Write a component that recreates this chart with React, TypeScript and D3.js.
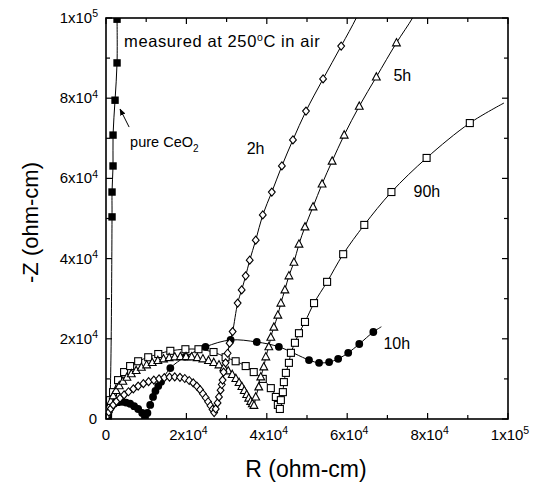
import * as d3 from 'd3';

// impedance spectra, -Z vs R (ohm-cm)
const pureCeO2R = [300, 600, 900, 1500, 1500, 1750, 1750, 2250, 2750, 2750];
const pureCeO2Z = [300, 1000, 3000, 50400, 56600, 63100, 70800, 79500, 88800, 99700];

const h2R = [0, 300, 700, 1200, 1800, 2600, 3500, 4500, 5600, 6800, 8000, 9300, 10600, 11900, 13200, 14500, 15800, 17100, 18400, 19600, 20700, 21700, 22600, 23400, 24100, 24800, 25400, 26000, 26500, 26900, 27300, 27750, 28100, 28500, 28800, 29000, 29250, 29750, 30250, 30750, 31500, 32750, 33750, 34750, 35750, 37250, 39000, 41250, 43750, 46500, 49750, 54000, 58500];
const h2Z = [0, 800, 1700, 2600, 3500, 4400, 5200, 6000, 6800, 7500, 8200, 8800, 9300, 9700, 10000, 10300, 10450, 10500, 10400, 10100, 9600, 9000, 8200, 7300, 6300, 5300, 4300, 3300, 2400, 1600, 2500, 4000, 5500, 7200, 8600, 9700, 11700, 14000, 16400, 18900, 21800, 28900, 32200, 35700, 39600, 44600, 50900, 56600, 63100, 69600, 76800, 84800, 93000];
const h2TailR = [62250, 64000];
const h2TailZ = [100000, 104000];

const h5R = [0, 300, 700, 1200, 1800, 2500, 3300, 4200, 5200, 6300, 7500, 8800, 10100, 11500, 12900, 14300, 15700, 17100, 18500, 19900, 21300, 22700, 24100, 25500, 26800, 28100, 29300, 30400, 31400, 32300, 33100, 33800, 34400, 35000, 35500, 36000, 36400, 36800, 37250, 38000, 38500, 39250, 39750, 40500, 41000, 41750, 42750, 43500, 44500, 45500, 46750, 48000, 49500, 51500, 53750, 56250, 59250, 63000, 67250, 72250];
const h5Z = [0, 1500, 3000, 4400, 5800, 7100, 8300, 9400, 10400, 11300, 12100, 12900, 13500, 14100, 14600, 15000, 15300, 15500, 15550, 15550, 15500, 15300, 15000, 14600, 14100, 13500, 12800, 12000, 11100, 10100, 9100, 8100, 7100, 6100, 5200, 4400, 3800, 3400, 5500, 8000, 10500, 13000, 15500, 18000, 20400, 22900, 25900, 28900, 32200, 35700, 39100, 43600, 47900, 52900, 58600, 64300, 70800, 78000, 85300, 93800];
const h5TailR = [76250, 78000];
const h5TailZ = [100000, 103500];

const h10R = [0, 300, 700, 1200, 2000, 3000, 4000, 5000, 6000, 7000, 8000, 9000, 9700, 10300, 11000, 11700, 12300, 13000, 13700, 16000, 19750, 24750, 31000, 37500, 43000, 50500, 53000, 55500, 57750, 60250, 63000, 66500];
const h10Z = [0, 1200, 2200, 3000, 3800, 4200, 4300, 4100, 3800, 3200, 2500, 1500, 400, 1500, 3500, 5500, 7000, 8200, 9300, 12700, 15500, 18000, 19700, 19200, 18000, 14700, 14000, 14200, 15000, 16500, 18700, 21700];
const h10TailR = [68500];
const h10TailZ = [23000];

const h90R = [0, 500, 1000, 1750, 3000, 4500, 6000, 8000, 10500, 13000, 16000, 19750, 23000, 26750, 29750, 32250, 34750, 36750, 39000, 41000, 42250, 42750, 43250, 43500, 44000, 44250, 44750, 45500, 46000, 47000, 48000, 49500, 51750, 55000, 59000, 64250, 71000, 79750, 90500];
const h90Z = [0, 2200, 4700, 6700, 9700, 11700, 13200, 14400, 15400, 16200, 17000, 17400, 17400, 16700, 15400, 14400, 13200, 11700, 10000, 7700, 5500, 3500, 2500, 4700, 6700, 9200, 11500, 14000, 16500, 19000, 21400, 24200, 28900, 34200, 41100, 48400, 56600, 65100, 73800];
const h90TailR = [99000];
const h90TailZ = [78800];

const xTicks = [0, 20000, 40000, 60000, 80000, 100000];
const xTickLabels = ['0', '2x10^4', '4x10^4', '6x10^4', '8x10^4', '1x10^5'];
const yTicks = [0, 20000, 40000, 60000, 80000, 100000];
const yTickLabels = ['0', '2x10^4', '4x10^4', '6x10^4', '8x10^4', '1x10^5'];
const minorTicks = [10000, 30000, 50000, 70000, 90000];

const width = 542;
const height = 485;
const left = 106, right = 508, top = 18, bottom = 419;
const font = '"Liberation Sans", Arial, sans-serif';

const x = d3.scaleLinear().domain([0, 100000]).range([left, right]);
const y = d3.scaleLinear().domain([0, 100000]).range([bottom, top]);

type Pt = [number, number];
const zip = (a: number[], b: number[]): Pt[] => a.map((v, i) => [v, b[i]]);

const line = d3.line<Pt>().x(d => x(d[0])).y(d => y(d[1])).curve(d3.curveCatmullRom.alpha(0.5));

function supLabel(s: string, size: number, supSize: number) {
  const [base, exp] = s.split('^');
  return (
    <>
      <tspan>{base}</tspan>
      {exp && <tspan dy={-size * 0.38} fontSize={supSize}>{exp}</tspan>}
    </>
  );
}

function Marker({ kind, cx, cy }: { kind: string; cx: number; cy: number }) {
  if (kind === 'fsq') return <rect x={cx - 3.7} y={cy - 3.7} width={7.4} height={7.4} fill="#000" />;
  if (kind === 'osq') return <rect x={cx - 3.5} y={cy - 3.5} width={7} height={7} fill="#fff" stroke="#000" strokeWidth={1.1} />;
  if (kind === 'dia') return <path d={`M${cx},${cy - 4}L${cx + 3.4},${cy}L${cx},${cy + 4}L${cx - 3.4},${cy}Z`} fill="#fff" stroke="#000" strokeWidth={1.1} />;
  if (kind === 'tri') return <path d={`M${cx},${cy - 4.3}L${cx + 3.9},${cy + 3}L${cx - 3.9},${cy + 3}Z`} fill="#fff" stroke="#000" strokeWidth={1.1} />;
  return <circle cx={cx} cy={cy} r={3.9} fill="#000" />;
}

const series = [
  { pts: zip(pureCeO2R, pureCeO2Z), tail: [] as Pt[], kind: 'fsq' },
  { pts: zip(h10R, h10Z), tail: zip(h10TailR, h10TailZ), kind: 'fci' },
  { pts: zip(h90R, h90Z), tail: zip(h90TailR, h90TailZ), kind: 'osq' },
  { pts: zip(h5R, h5Z), tail: zip(h5TailR, h5TailZ), kind: 'tri' },
  { pts: zip(h2R, h2Z), tail: zip(h2TailR, h2TailZ), kind: 'dia' },
];

export default function App() {
  const ticks = [...xTicks, ...minorTicks];
  return (
    <svg width={width} height={height} style={{ position: 'absolute', left: 0, top: 0, background: '#fff' }} fontFamily={font}>
      <defs>
        <clipPath id="plot">
          <rect x={left} y={top} width={right - left} height={bottom - top} />
        </clipPath>
        <marker id="arrow" viewBox="0 0 10 10" refX={9} refY={5} markerWidth={7} markerHeight={7} orient="auto">
          <path d="M0,1L10,5L0,9Z" fill="#000" />
        </marker>
      </defs>

      <g clipPath="url(#plot)">
        {series.map((s, i) => (
          <path key={i} d={line([...s.pts, ...s.tail]) || ''} fill="none" stroke="#000" strokeWidth={1} />
        ))}
        {series.map((s, i) => (
          <g key={i}>
            {s.pts.map((p, j) => (
              <Marker key={j} kind={s.kind} cx={x(p[0])} cy={y(p[1])} />
            ))}
          </g>
        ))}
      </g>

      {/* frame and inward ticks */}
      <rect x={left} y={top} width={right - left} height={bottom - top} fill="none" stroke="#000" strokeWidth={1.6} />
      {ticks.map(t => {
        const len = xTicks.includes(t) ? 6 : 4;
        return (
          <g key={'t' + t} stroke="#000" strokeWidth={1.2}>
            <line x1={x(t)} x2={x(t)} y1={bottom} y2={bottom - len} />
            <line x1={x(t)} x2={x(t)} y1={top} y2={top + len} />
            <line x1={left} x2={left + len} y1={y(t)} y2={y(t)} />
            <line x1={right} x2={right - len} y1={y(t)} y2={y(t)} />
          </g>
        );
      })}

      {xTicks.map((t, i) => (
        <text key={'xl' + t} x={x(t) + (i === 0 ? 0 : 2)} y={440} textAnchor="middle" fontSize={15}>
          {supLabel(xTickLabels[i], 15, 10.5)}
        </text>
      ))}
      {yTicks.map((t, i) => (
        <text key={'yl' + t} x={i === 0 ? 97 : 98} y={y(t) + 5} textAnchor="end" fontSize={15}>
          {supLabel(yTickLabels[i], 15, 10.5)}
        </text>
      ))}

      <text x={306} y={477} textAnchor="middle" fontSize={23}>R (ohm-cm)</text>
      <text transform={`translate(38,${(top + bottom) / 2 + 4}) rotate(-90)`} textAnchor="middle" fontSize={22}>-Z (ohm-cm)</text>

      {/* annotations */}
      <text x={x(4500)} y={y(92800)} fontSize={16.5} letterSpacing={0.6}>
        measured at 250<tspan dy={-6} fontSize={10.5}>o</tspan><tspan dy={6}>C in air</tspan>
      </text>
      <text x={x(6000)} y={y(67800)} fontSize={14.5}>
        pure CeO<tspan dy={5} fontSize={10}>2</tspan>
      </text>
      <line x1={x(5750)} y1={y(72800)} x2={x(3500)} y2={y(77300)} stroke="#000" strokeWidth={1} markerEnd="url(#arrow)" />
      <text x={x(35000)} y={y(66000)} fontSize={16}>2h</text>
      <text x={x(71500)} y={y(84200)} fontSize={16}>5h</text>
      <text x={x(76500)} y={y(55400)} fontSize={16}>90h</text>
      <text x={x(69000)} y={y(17500)} fontSize={16}>10h</text>
    </svg>
  );
}
